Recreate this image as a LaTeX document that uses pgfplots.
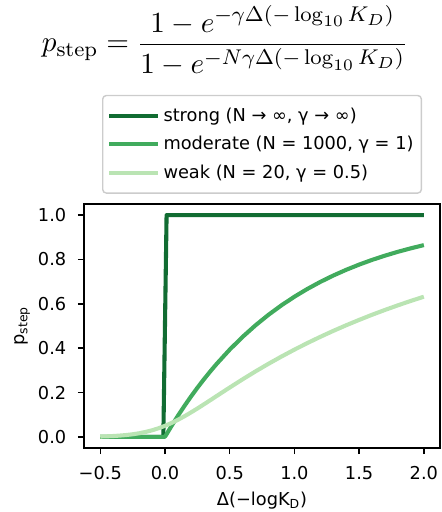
\documentclass[border=0pt]{standalone}
\usepackage[no-math]{fontspec}
\setmainfont{DejaVu Sans}
\usepackage{amsmath}
\usepackage{pgfplots}
\pgfplotsset{compat=1.18}
\definecolor{strongc}{RGB}{17,108,50}
\definecolor{modc}{RGB}{65,171,93}
\definecolor{weakc}{RGB}{186,228,179}
\definecolor{framec}{gray}{0.8}
\newcommand{\tickfont}{\fontsize{10}{12}\selectfont}

\begin{document}
\begin{tikzpicture}
\begin{axis}[name=ax, scale only axis, width=200.3pt, height=137.3pt,
  xmin=-0.625, xmax=2.125, ymin=-0.05, ymax=1.05,
  xtick={-0.5,0,0.5,1,1.5,2}, xticklabels={−0.5,0.0,0.5,1.0,1.5,2.0},
  ytick={0,0.2,0.4,0.6,0.8,1.0}, yticklabels={0.0,0.2,0.4,0.6,0.8,1.0},
  tick align=outside, xtick pos=left, ytick pos=left, major tick length=3.5pt,
  tick style={black, line width=0.8pt}, axis line style={line width=0.8pt},
  tick label style={font=\tickfont}, label style={font=\tickfont},
  xticklabel style={yshift=-3.4pt}, yticklabel style={xshift=-3pt},
  xlabel={Δ(−logK\textsubscript{D})}, ylabel={p\textsubscript{step}},
  ylabel style={yshift=-2.3pt},
  legend cell align=left,
  legend style={at={(0.5,1.042)}, anchor=south, font=\fontsize{10}{12}\selectfont,
    draw=framec, line width=0.8pt, rounded corners=2pt, inner xsep=2.4pt, inner ysep=4.8pt, row sep=3pt},
  legend image code/.code={\draw[#1] (0pt,0pt) -- (23pt,0pt); \path (0pt,0pt) -- (27.5pt,0pt);},
  every axis plot/.append style={line width=2.3pt, line join=round}]
\addplot[strongc] coordinates {(-0.5,0) (-0.0125,0) (0.0125,1) (2.0,1)};
\addlegendentry{strong (N → ∞, γ → ∞)}
\addplot[modc] coordinates {(-0.5,0) (-0.0125,0) (0,0.001) (0.0125,0.0124) (0.025,0.0247)
  (0.05,0.0488) (0.1,0.0952) (0.15,0.1393) (0.2,0.1813) (0.25,0.2212) (0.3,0.2592) (0.35,0.2953)
  (0.4,0.3297) (0.5,0.3935) (0.6,0.4512) (0.7,0.5034) (0.8,0.5507) (0.9,0.5934) (1.0,0.6321)
  (1.1,0.6671) (1.2,0.6988) (1.3,0.7275) (1.4,0.7534) (1.5,0.7769) (1.6,0.7981) (1.7,0.8173)
  (1.8,0.8347) (1.9,0.8504) (2.0,0.8647)};
\addlegendentry{moderate (N = 1000, γ = 1)}
\addplot[weakc] coordinates {(-0.5,0.0019) (-0.45,0.0028) (-0.4,0.0041) (-0.35,0.0060) (-0.3,0.0085)
  (-0.25,0.0119) (-0.2,0.0165) (-0.15,0.0224) (-0.1,0.0298) (-0.05,0.0390) (0,0.05) (0.05,0.0628)
  (0.1,0.0772) (0.15,0.0930) (0.2,0.1101) (0.25,0.1280) (0.3,0.1466) (0.35,0.1656) (0.4,0.1847)
  (0.5,0.2227) (0.6,0.2598) (0.7,0.2956) (0.8,0.3298) (0.9,0.3624) (1.0,0.3935) (1.1,0.4231)
  (1.2,0.4512) (1.3,0.4780) (1.4,0.5034) (1.5,0.5276) (1.6,0.5507) (1.7,0.5726) (1.8,0.5934)
  (1.9,0.6133) (2.0,0.6321)};
\addlegendentry{weak (N = 20, γ = 0.5)}
\end{axis}
\node[font=\fontsize{10.95}{13}\selectfont, scale=1.5, transform shape] at ([xshift=-20.8pt, yshift=92pt]ax.north)
  {$p_{\mathrm{step}} = \dfrac{1 - e^{-\gamma\Delta(-\log_{10}K_D)}}{1 - e^{-N\gamma\Delta(-\log_{10}K_D)}}$};
\pgfresetboundingbox
\path ([xshift=-47.3pt, yshift=-36pt]ax.south west) rectangle ([xshift=0.6pt, yshift=114.8pt]ax.north east);
\end{tikzpicture}
\end{document}
